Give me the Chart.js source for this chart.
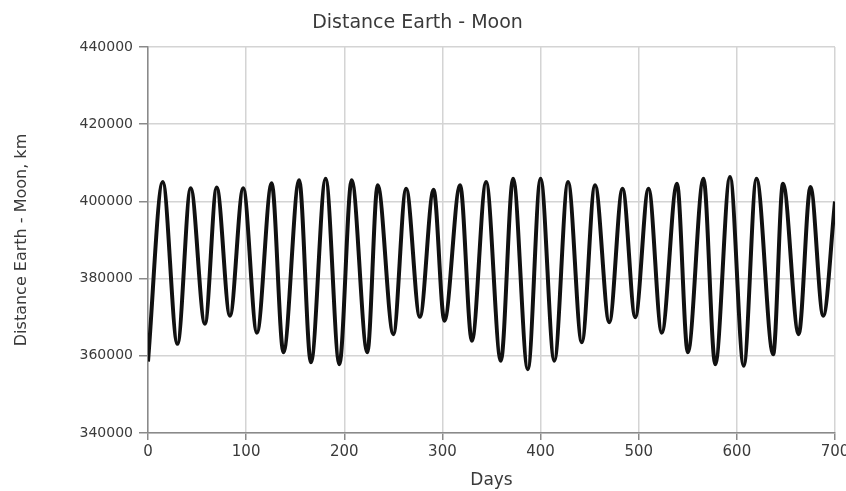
<!DOCTYPE html>
<html>
<head>
<meta charset="utf-8">
<script src="https://cdn.jsdelivr.net/npm/chart.js@4/dist/chart.umd.min.js"></script>
<style>
  html, body { margin: 0; padding: 0; background: #fff; }
  #chart { display: block; }
</style>
</head>
<body>
<canvas id="chart" width="846" height="491"></canvas>
<script>
// Turning points of the curve (peaks and troughs)
const days = [
  0, 15, 30, 43.5, 58, 70, 83.5, 97, 111, 126, 138, 154, 166, 181, 195,
  207.5, 223.5, 234, 250, 263, 277, 291, 302, 318, 330, 344.5, 359.5, 372,
  387, 400, 414, 428, 442, 455.5, 470, 483.5, 496.5, 510, 523.5, 539, 550,
  566, 578, 593, 607, 620, 637, 647, 663, 675, 688, 700
];
const distanceKm = [
  358500, 405000, 363100, 403400, 368300, 403600, 370400, 403400, 366000, 404700, 360900, 405500, 358300, 405900, 357800,
  405500, 360900, 404200, 365600, 403300, 370100, 403000, 369100, 404200, 363900, 405000, 358700, 405900,
  356500, 405900, 358700, 405000, 363500, 404200, 368700, 403300, 370000, 403300, 366000, 404600, 360900,
  405900, 357800, 406300, 357400, 405900, 360400, 404600, 365600, 403700, 370400, 400000
];
const xTicks = [0, 100, 200, 300, 400, 500, 600, 700];
const yTicks = [340000, 360000, 380000, 400000, 420000, 440000];

const font = 'DejaVu Sans, Verdana, sans-serif';
const textColor = '#3a3a3a';
const gridColor = '#d4d4d4';

const points = days.map((d, i) => ({ x: d, y: distanceKm[i] }));

new Chart(document.getElementById('chart'), {
  type: 'line',
  data: {
    datasets: [{
      data: points,
      borderColor: '#111',
      borderWidth: 4,
      pointRadius: 0,
      fill: false,
      cubicInterpolationMode: 'monotone'
    }]
  },
  options: {
    responsive: false,
    animation: false,
    layout: { padding: { left: 0, right: 11, top: 0, bottom: 0 } },
    plugins: {
      legend: { display: false },
      tooltip: { enabled: false },
      title: {
        display: true,
        text: 'Distance Earth - Moon',
        color: textColor,
        font: { family: font, size: 19, weight: 'normal', lineHeight: 1.2 },
        padding: { top: 12, bottom: 12.2 }
      }
    },
    scales: {
      x: {
        type: 'linear',
        min: xTicks[0],
        max: xTicks[xTicks.length - 1],
        afterBuildTicks: s => { s.ticks = xTicks.map(v => ({ value: v })); },
        // the last label is allowed to run off the right edge, as in the original
        afterFit: s => { s.height = 58; s.paddingLeft = 0; s.paddingRight = 0; },
        ticks: { color: textColor, font: { family: font, size: 15 }, padding: 3, maxRotation: 0 },
        grid: { color: gridColor, lineWidth: 1.5, tickLength: 7, tickColor: '#8a8a8a' },
        border: { color: '#8a8a8a', width: 1.5 },
        title: {
          display: true,
          text: 'Days',
          color: textColor,
          font: { family: font, size: 17 },
          padding: { top: 4, bottom: 0 }
        }
      },
      y: {
        min: yTicks[0],
        max: yTicks[yTicks.length - 1],
        afterBuildTicks: s => { s.ticks = yTicks.map(v => ({ value: v })); },
        afterFit: s => { s.width = 148; },
        ticks: { color: textColor, font: { family: font, size: 14 }, padding: 6, callback: v => String(v) },
        grid: { color: gridColor, lineWidth: 1.5, tickLength: 9, tickColor: '#8a8a8a' },
        border: { color: '#8a8a8a', width: 1.5 },
        title: {
          display: true,
          text: 'Distance Earth - Moon, km',
          color: textColor,
          font: { family: font, size: 16 },
          padding: { top: 12, bottom: 0 }
        }
      }
    }
  }
});
</script>
</body>
</html>
